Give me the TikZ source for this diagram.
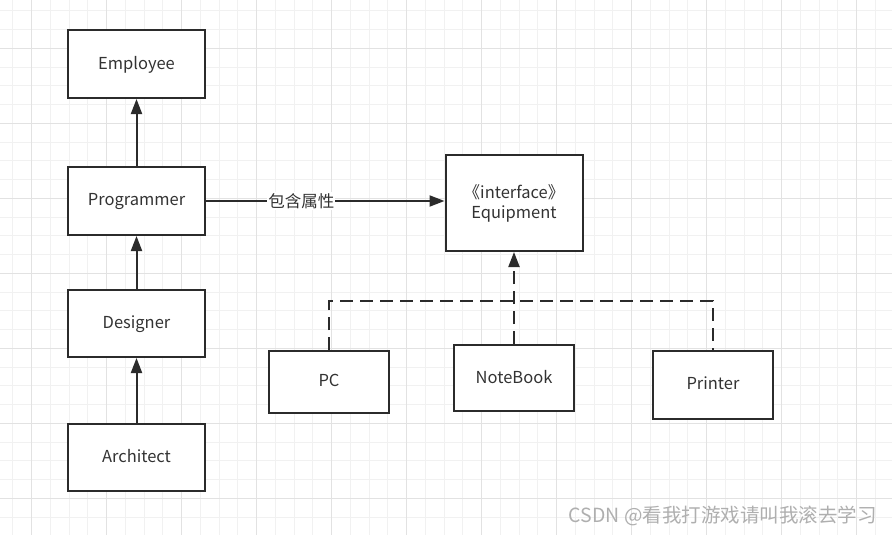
\documentclass[tikz,border=0pt]{standalone}
\usepackage{fontspec}
\setmainfont{Noto Sans CJK SC}
\usetikzlibrary{arrows.meta}
\definecolor{ink}{HTML}{2B2B2B}
\definecolor{txt}{HTML}{333333}
\definecolor{gminor}{HTML}{F1F1F1}
\definecolor{gmajor}{HTML}{E2E2E2}
\definecolor{wm}{HTML}{AFAFAF}
\begin{document}
\begin{tikzpicture}[x=1pt,y=-1pt,
  box/.style={draw=ink, line width=2pt, fill=white, inner sep=0pt, text=txt,
    font=\fontsize{16.5}{20}\selectfont, align=center, text depth=3pt},
  bigbox/.style={box, minimum width=137pt, minimum height=68pt},
  smallbox/.style={box, minimum width=120pt},
  arr/.style={draw=ink, line width=2pt, -{Triangle[length=15pt,width=11pt]}},
  dashline/.style={draw=ink, line width=2pt, dash pattern=on 13pt off 7pt},
  minor/.style={draw=gminor, line width=1pt},
  major/.style={draw=gmajor, line width=1pt}]
\fill[white] (0,0) rectangle (892,535);
\useasboundingbox (0,0) rectangle (892,535);
% grid
\foreach \i in {0,...,47} \draw[minor] ({12.95+18.75*\i},0) -- ({12.95+18.75*\i},535);
\foreach \i in {0,...,28} \draw[minor] (0,{10.8+18.75*\i}) -- (892,{10.8+18.75*\i});
\foreach \i in {0,...,11} \draw[major] ({31.7+75*\i},0) -- ({31.7+75*\i},535);
\foreach \i in {0,...,6} \draw[major] (0,{48.3+75*\i}) -- (892,{48.3+75*\i});
% nodes
\node[bigbox] (emp) at (136.5,64) {Employee};
\node[bigbox] (prog) at (136.5,201) {Programmer};
\node[bigbox, minimum height=67pt] (des) at (136.5,323.5) {Designer};
\node[bigbox, minimum height=67pt] (arch) at (136.5,457.5) {Architect};
\node[bigbox, minimum height=96pt] (equip) at (514,203) {《interface》\\Equipment};
\node[smallbox, minimum height=62pt] (pc) at (329,382) {PC};
\node[smallbox, minimum height=66pt] (nb) at (514,378) {NoteBook};
\node[smallbox, minimum height=68pt] (pr) at (713,385) {Printer};
% connectors
\draw[arr] (prog.north) -- (emp.south);
\draw[arr] (des.north) -- (prog.south);
\draw[arr] (arch.north) -- (des.south);
\draw[arr] (prog.east) -- node[pos=0.4, fill=white, inner sep=1pt, text=txt,
  font=\fontsize{16.5}{20}\selectfont] (lbl) {包含属性} (prog.east -| equip.west);
\coordinate (jl) at (329,301);
\coordinate (jr) at (713,301);
\draw[dashline] (pc.north) -- (jl) -- (jr) -- (pr.north);
\draw[dashline, -{Triangle[length=15pt,width=11pt]}] (nb.north) -- (equip.south);
% watermark
\node[anchor=east, text=wm, inner sep=0pt, font=\fontsize{19.5}{22}\selectfont] (wmk) at (877,516) {CSDN @看我打游戏请叫我滚去学习};
\end{tikzpicture}
\end{document}
